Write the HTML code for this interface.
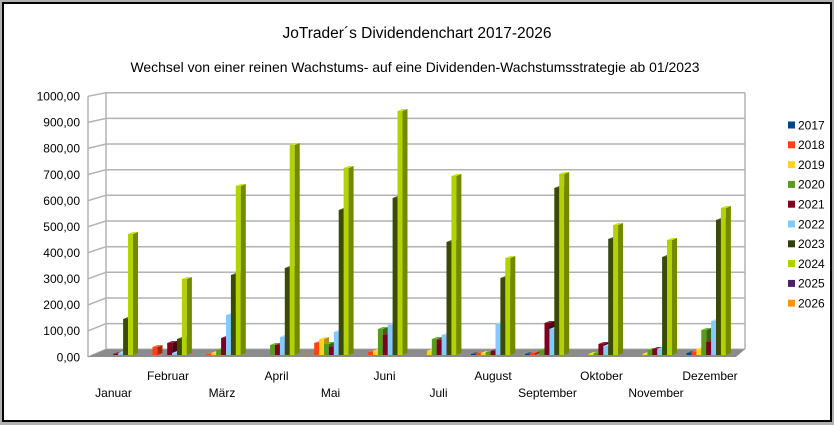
<!DOCTYPE html>
<html><head><meta charset="utf-8">
<style>
html,body{margin:0;padding:0;background:#b0b0b0;}
svg{display:block;font-family:"Liberation Sans",Arial,sans-serif;}
.s0 .f{fill:#004586}.s0 .d{fill:#00284e}.s0 .t{fill:#2a62a0}
.s1 .f{fill:#ff420e}.s1 .d{fill:#a32a08}.s1 .t{fill:#ff6a3a}
.s2 .f{fill:#ffd320}.s2 .d{fill:#b08f12}.s2 .t{fill:#ffe060}
.s3 .f{fill:#579d1c}.s3 .d{fill:#386512}.s3 .t{fill:#72b436}
.s4 .f{fill:#7e0021}.s4 .d{fill:#4a0013}.s4 .t{fill:#9a2040}
.s5 .f{fill:#83caff}.s5 .d{fill:#4f8ab8}.s5 .t{fill:#a8dbff}
.s6 .f{fill:#3a4a08}.s6 .d{fill:#1e2803}.s6 .t{fill:#4f6018}
.s7 .f{fill:#b4d200}.s7 .d{fill:#728a00}.s7 .t{fill:#c8e228}
</style></head>
<body>
<svg width="834" height="425" viewBox="0 0 834 425" xmlns="http://www.w3.org/2000/svg">
<rect x="0" y="0" width="834" height="425" fill="#b0b0b0"/>
<rect x="3" y="3" width="828" height="418" fill="#ffffff" stroke="#000" stroke-width="2"/>

<text x="417" y="38" font-size="15.5" text-anchor="middle" fill="#000" textLength="269" lengthAdjust="spacingAndGlyphs">JoTrader´s Dividendenchart 2017-2026</text>
<text x="415" y="72" font-size="14" text-anchor="middle" fill="#000" textLength="569" lengthAdjust="spacingAndGlyphs">Wechsel von einer reinen Wachstums- auf eine Dividenden-Wachstumsstrategie ab 01/2023</text>

<!-- walls grid -->
<g stroke="#b3b3b3" stroke-width="1.5" fill="none">
<line x1="106" y1="349.3" x2="745" y2="349.3"/>
<line x1="106" y1="323.6" x2="745" y2="323.6"/>
<line x1="106" y1="298.0" x2="745" y2="298.0"/>
<line x1="106" y1="272.3" x2="745" y2="272.3"/>
<line x1="106" y1="246.7" x2="745" y2="246.7"/>
<line x1="106" y1="221.0" x2="745" y2="221.0"/>
<line x1="106" y1="195.3" x2="745" y2="195.3"/>
<line x1="106" y1="169.7" x2="745" y2="169.7"/>
<line x1="106" y1="144.0" x2="745" y2="144.0"/>
<line x1="106" y1="118.4" x2="745" y2="118.4"/>
<line x1="106" y1="92.7" x2="745" y2="92.7"/>
<line x1="88" y1="357" x2="106" y2="349.3"/>
<line x1="88" y1="330.9" x2="106" y2="323.6"/>
<line x1="88" y1="304.9" x2="106" y2="298.0"/>
<line x1="88" y1="278.8" x2="106" y2="272.3"/>
<line x1="88" y1="252.7" x2="106" y2="246.7"/>
<line x1="88" y1="226.7" x2="106" y2="221.0"/>
<line x1="88" y1="200.6" x2="106" y2="195.3"/>
<line x1="88" y1="174.5" x2="106" y2="169.7"/>
<line x1="88" y1="148.4" x2="106" y2="144.0"/>
<line x1="88" y1="122.4" x2="106" y2="118.4"/>
<line x1="88" y1="96.3" x2="106" y2="92.7"/>
<line x1="88" y1="96.3" x2="88" y2="357"/>
<line x1="106" y1="92.7" x2="106" y2="349.3"/>
<line x1="745" y1="92.7" x2="745" y2="349.3"/>
</g>

<!-- floor -->
<polygon points="88,357 106,349.3 745,349.3 736,357" fill="#8c8c8c"/>

<!-- y labels -->
<g font-size="12" text-anchor="end" fill="#000">
<text x="80" y="361.3">0,00</text>
<text x="80" y="335.2">100,00</text>
<text x="80" y="309.2">200,00</text>
<text x="80" y="283.1">300,00</text>
<text x="80" y="257.0">400,00</text>
<text x="80" y="231.0">500,00</text>
<text x="80" y="204.9">600,00</text>
<text x="80" y="178.8">700,00</text>
<text x="80" y="152.7">800,00</text>
<text x="80" y="126.7">900,00</text>
<text x="80" y="100.6">1000,00</text>
</g>

<!-- bars -->
<!-- Januar -->
<g class="s4" transform="translate(113.3)"><path class="f" d="M0,355V354h5V355z"/><path class="d" d="M5,355V354l5,-2V353z"/><path class="t" d="M0,354l5,-2h5l-5,2z"/></g>
<g class="s5" transform="translate(118.2)"><path class="f" d="M0,355V353h5V355z"/><path class="d" d="M5,355V353l5,-2V353z"/><path class="t" d="M0,353l5,-2h5l-5,2z"/></g>
<g class="s6" transform="translate(123.1)"><path class="f" d="M0,355V319h5V355z"/><path class="d" d="M5,355V319l5,-2V353z"/><path class="t" d="M0,319l5,-2h5l-5,2z"/></g>
<g class="s7" transform="translate(128)"><path class="f" d="M0,355V234h5V355z"/><path class="d" d="M5,355V234l5,-2V353z"/><path class="t" d="M0,234l5,-2h5l-5,2z"/></g>
<!-- Februar -->
<g class="s1" transform="translate(152.5)"><path class="f" d="M0,355V347h5V355z"/><path class="d" d="M5,355V347l5,-2V353z"/><path class="t" d="M0,347l5,-2h5l-5,2z"/></g>
<g class="s4" transform="translate(167.2)"><path class="f" d="M0,355V343h5V355z"/><path class="d" d="M5,355V343l5,-2V353z"/><path class="t" d="M0,343l5,-2h5l-5,2z"/></g>
<g class="s5" transform="translate(172.1)"><path class="f" d="M0,355V353h5V355z"/><path class="d" d="M5,355V353l5,-2V353z"/><path class="t" d="M0,353l5,-2h5l-5,2z"/></g>
<g class="s6" transform="translate(177)"><path class="f" d="M0,355V339h5V355z"/><path class="d" d="M5,355V339l5,-2V353z"/><path class="t" d="M0,339l5,-2h5l-5,2z"/></g>
<g class="s7" transform="translate(181.9)"><path class="f" d="M0,355V279h5V355z"/><path class="d" d="M5,355V279l5,-2V353z"/><path class="t" d="M0,279l5,-2h5l-5,2z"/></g>
<!-- März -->
<g class="s1" transform="translate(206.4)"><path class="f" d="M0,355V354h5V355z"/><path class="d" d="M5,355V354l5,-2V353z"/><path class="t" d="M0,354l5,-2h5l-5,2z"/></g>
<g class="s2" transform="translate(211.3)"><path class="f" d="M0,355V353h5V355z"/><path class="d" d="M5,355V353l5,-2V353z"/><path class="t" d="M0,353l5,-2h5l-5,2z"/></g>
<g class="s3" transform="translate(216.2)"><path class="f" d="M0,355V350h5V355z"/><path class="d" d="M5,355V350l5,-2V353z"/><path class="t" d="M0,350l5,-2h5l-5,2z"/></g>
<g class="s4" transform="translate(221.1)"><path class="f" d="M0,355V338h5V355z"/><path class="d" d="M5,355V338l5,-2V353z"/><path class="t" d="M0,338l5,-2h5l-5,2z"/></g>
<g class="s5" transform="translate(226)"><path class="f" d="M0,355V315h5V355z"/><path class="d" d="M5,355V315l5,-2V353z"/><path class="t" d="M0,315l5,-2h5l-5,2z"/></g>
<g class="s6" transform="translate(230.9)"><path class="f" d="M0,355V275h5V355z"/><path class="d" d="M5,355V275l5,-2V353z"/><path class="t" d="M0,275l5,-2h5l-5,2z"/></g>
<g class="s7" transform="translate(235.8)"><path class="f" d="M0,355V186h5V355z"/><path class="d" d="M5,355V186l5,-2V353z"/><path class="t" d="M0,186l5,-2h5l-5,2z"/></g>
<!-- April -->
<g class="s3" transform="translate(270.1)"><path class="f" d="M0,355V345h5V355z"/><path class="d" d="M5,355V345l5,-2V353z"/><path class="t" d="M0,345l5,-2h5l-5,2z"/></g>
<g class="s4" transform="translate(275)"><path class="f" d="M0,355V345h5V355z"/><path class="d" d="M5,355V345l5,-2V353z"/><path class="t" d="M0,345l5,-2h5l-5,2z"/></g>
<g class="s5" transform="translate(279.9)"><path class="f" d="M0,355V337h5V355z"/><path class="d" d="M5,355V337l5,-2V353z"/><path class="t" d="M0,337l5,-2h5l-5,2z"/></g>
<g class="s6" transform="translate(284.8)"><path class="f" d="M0,355V268h5V355z"/><path class="d" d="M5,355V268l5,-2V353z"/><path class="t" d="M0,268l5,-2h5l-5,2z"/></g>
<g class="s7" transform="translate(289.7)"><path class="f" d="M0,355V145h5V355z"/><path class="d" d="M5,355V145l5,-2V353z"/><path class="t" d="M0,145l5,-2h5l-5,2z"/></g>
<!-- Mai -->
<g class="s1" transform="translate(314.2)"><path class="f" d="M0,355V343h5V355z"/><path class="d" d="M5,355V343l5,-2V353z"/><path class="t" d="M0,343l5,-2h5l-5,2z"/></g>
<g class="s2" transform="translate(319.1)"><path class="f" d="M0,355V339h5V355z"/><path class="d" d="M5,355V339l5,-2V353z"/><path class="t" d="M0,339l5,-2h5l-5,2z"/></g>
<g class="s3" transform="translate(324)"><path class="f" d="M0,355V344h5V355z"/><path class="d" d="M5,355V344l5,-2V353z"/><path class="t" d="M0,344l5,-2h5l-5,2z"/></g>
<g class="s4" transform="translate(328.9)"><path class="f" d="M0,355V347h5V355z"/><path class="d" d="M5,355V347l5,-2V353z"/><path class="t" d="M0,347l5,-2h5l-5,2z"/></g>
<g class="s5" transform="translate(333.8)"><path class="f" d="M0,355V332h5V355z"/><path class="d" d="M5,355V332l5,-2V353z"/><path class="t" d="M0,332l5,-2h5l-5,2z"/></g>
<g class="s6" transform="translate(338.7)"><path class="f" d="M0,355V210h5V355z"/><path class="d" d="M5,355V210l5,-2V353z"/><path class="t" d="M0,210l5,-2h5l-5,2z"/></g>
<g class="s7" transform="translate(343.6)"><path class="f" d="M0,355V168h5V355z"/><path class="d" d="M5,355V168l5,-2V353z"/><path class="t" d="M0,168l5,-2h5l-5,2z"/></g>
<!-- Juni -->
<g class="s1" transform="translate(368.1)"><path class="f" d="M0,355V352h5V355z"/><path class="d" d="M5,355V352l5,-2V353z"/><path class="t" d="M0,352l5,-2h5l-5,2z"/></g>
<g class="s2" transform="translate(373)"><path class="f" d="M0,355V351h5V355z"/><path class="d" d="M5,355V351l5,-2V353z"/><path class="t" d="M0,351l5,-2h5l-5,2z"/></g>
<g class="s3" transform="translate(377.9)"><path class="f" d="M0,355V329h5V355z"/><path class="d" d="M5,355V329l5,-2V353z"/><path class="t" d="M0,329l5,-2h5l-5,2z"/></g>
<g class="s4" transform="translate(382.8)"><path class="f" d="M0,355V335h5V355z"/><path class="d" d="M5,355V335l5,-2V353z"/><path class="t" d="M0,335l5,-2h5l-5,2z"/></g>
<g class="s5" transform="translate(387.7)"><path class="f" d="M0,355V325h5V355z"/><path class="d" d="M5,355V325l5,-2V353z"/><path class="t" d="M0,325l5,-2h5l-5,2z"/></g>
<g class="s6" transform="translate(392.6)"><path class="f" d="M0,355V198h5V355z"/><path class="d" d="M5,355V198l5,-2V353z"/><path class="t" d="M0,198l5,-2h5l-5,2z"/></g>
<g class="s7" transform="translate(397.5)"><path class="f" d="M0,355V111h5V355z"/><path class="d" d="M5,355V111l5,-2V353z"/><path class="t" d="M0,111l5,-2h5l-5,2z"/></g>
<!-- Juli -->
<g class="s2" transform="translate(426.9)"><path class="f" d="M0,355V351h5V355z"/><path class="d" d="M5,355V351l5,-2V353z"/><path class="t" d="M0,351l5,-2h5l-5,2z"/></g>
<g class="s3" transform="translate(431.8)"><path class="f" d="M0,355V339h5V355z"/><path class="d" d="M5,355V339l5,-2V353z"/><path class="t" d="M0,339l5,-2h5l-5,2z"/></g>
<g class="s4" transform="translate(436.7)"><path class="f" d="M0,355V340h5V355z"/><path class="d" d="M5,355V340l5,-2V353z"/><path class="t" d="M0,340l5,-2h5l-5,2z"/></g>
<g class="s5" transform="translate(441.6)"><path class="f" d="M0,355V335h5V355z"/><path class="d" d="M5,355V335l5,-2V353z"/><path class="t" d="M0,335l5,-2h5l-5,2z"/></g>
<g class="s6" transform="translate(446.5)"><path class="f" d="M0,355V242h5V355z"/><path class="d" d="M5,355V242l5,-2V353z"/><path class="t" d="M0,242l5,-2h5l-5,2z"/></g>
<g class="s7" transform="translate(451.4)"><path class="f" d="M0,355V176h5V355z"/><path class="d" d="M5,355V176l5,-2V353z"/><path class="t" d="M0,176l5,-2h5l-5,2z"/></g>
<!-- August -->
<g class="s0" transform="translate(471)"><path class="f" d="M0,355V354h5V355z"/><path class="d" d="M5,355V354l5,-2V353z"/><path class="t" d="M0,354l5,-2h5l-5,2z"/></g>
<g class="s1" transform="translate(475.9)"><path class="f" d="M0,355V353h5V355z"/><path class="d" d="M5,355V353l5,-2V353z"/><path class="t" d="M0,353l5,-2h5l-5,2z"/></g>
<g class="s2" transform="translate(480.8)"><path class="f" d="M0,355V353h5V355z"/><path class="d" d="M5,355V353l5,-2V353z"/><path class="t" d="M0,353l5,-2h5l-5,2z"/></g>
<g class="s3" transform="translate(485.7)"><path class="f" d="M0,355V352h5V355z"/><path class="d" d="M5,355V352l5,-2V353z"/><path class="t" d="M0,352l5,-2h5l-5,2z"/></g>
<g class="s4" transform="translate(490.6)"><path class="f" d="M0,355V351h5V355z"/><path class="d" d="M5,355V351l5,-2V353z"/><path class="t" d="M0,351l5,-2h5l-5,2z"/></g>
<g class="s5" transform="translate(495.5)"><path class="f" d="M0,355V324h5V355z"/><path class="d" d="M5,355V324l5,-2V353z"/><path class="t" d="M0,324l5,-2h5l-5,2z"/></g>
<g class="s6" transform="translate(500.4)"><path class="f" d="M0,355V278h5V355z"/><path class="d" d="M5,355V278l5,-2V353z"/><path class="t" d="M0,278l5,-2h5l-5,2z"/></g>
<g class="s7" transform="translate(505.3)"><path class="f" d="M0,355V258h5V355z"/><path class="d" d="M5,355V258l5,-2V353z"/><path class="t" d="M0,258l5,-2h5l-5,2z"/></g>
<!-- September -->
<g class="s0" transform="translate(524.9)"><path class="f" d="M0,355V354h5V355z"/><path class="d" d="M5,355V354l5,-2V353z"/><path class="t" d="M0,354l5,-2h5l-5,2z"/></g>
<g class="s1" transform="translate(529.8)"><path class="f" d="M0,355V353h5V355z"/><path class="d" d="M5,355V353l5,-2V353z"/><path class="t" d="M0,353l5,-2h5l-5,2z"/></g>
<g class="s3" transform="translate(539.6)"><path class="f" d="M0,355V350h5V355z"/><path class="d" d="M5,355V350l5,-2V353z"/><path class="t" d="M0,350l5,-2h5l-5,2z"/></g>
<g class="s4" transform="translate(544.5)"><path class="f" d="M0,355V323h5V355z"/><path class="d" d="M5,355V323l5,-2V353z"/><path class="t" d="M0,323l5,-2h5l-5,2z"/></g>
<g class="s5" transform="translate(549.4)"><path class="f" d="M0,355V329h5V355z"/><path class="d" d="M5,355V329l5,-2V353z"/><path class="t" d="M0,329l5,-2h5l-5,2z"/></g>
<g class="s6" transform="translate(554.3)"><path class="f" d="M0,355V188h5V355z"/><path class="d" d="M5,355V188l5,-2V353z"/><path class="t" d="M0,188l5,-2h5l-5,2z"/></g>
<g class="s7" transform="translate(559.2)"><path class="f" d="M0,355V174h5V355z"/><path class="d" d="M5,355V174l5,-2V353z"/><path class="t" d="M0,174l5,-2h5l-5,2z"/></g>
<!-- Oktober -->
<g class="s2" transform="translate(588.6)"><path class="f" d="M0,355V354h5V355z"/><path class="d" d="M5,355V354l5,-2V353z"/><path class="t" d="M0,354l5,-2h5l-5,2z"/></g>
<g class="s3" transform="translate(593.5)"><path class="f" d="M0,355V353h5V355z"/><path class="d" d="M5,355V353l5,-2V353z"/><path class="t" d="M0,353l5,-2h5l-5,2z"/></g>
<g class="s4" transform="translate(598.4)"><path class="f" d="M0,355V344h5V355z"/><path class="d" d="M5,355V344l5,-2V353z"/><path class="t" d="M0,344l5,-2h5l-5,2z"/></g>
<g class="s5" transform="translate(603.3)"><path class="f" d="M0,355V346h5V355z"/><path class="d" d="M5,355V346l5,-2V353z"/><path class="t" d="M0,346l5,-2h5l-5,2z"/></g>
<g class="s6" transform="translate(608.2)"><path class="f" d="M0,355V239h5V355z"/><path class="d" d="M5,355V239l5,-2V353z"/><path class="t" d="M0,239l5,-2h5l-5,2z"/></g>
<g class="s7" transform="translate(613.1)"><path class="f" d="M0,355V225h5V355z"/><path class="d" d="M5,355V225l5,-2V353z"/><path class="t" d="M0,225l5,-2h5l-5,2z"/></g>
<!-- November -->
<g class="s2" transform="translate(642.5)"><path class="f" d="M0,355V354h5V355z"/><path class="d" d="M5,355V354l5,-2V353z"/><path class="t" d="M0,354l5,-2h5l-5,2z"/></g>
<g class="s3" transform="translate(647.4)"><path class="f" d="M0,355V350h5V355z"/><path class="d" d="M5,355V350l5,-2V353z"/><path class="t" d="M0,350l5,-2h5l-5,2z"/></g>
<g class="s4" transform="translate(652.3)"><path class="f" d="M0,355V349h5V355z"/><path class="d" d="M5,355V349l5,-2V353z"/><path class="t" d="M0,349l5,-2h5l-5,2z"/></g>
<g class="s5" transform="translate(657.2)"><path class="f" d="M0,355V349h5V355z"/><path class="d" d="M5,355V349l5,-2V353z"/><path class="t" d="M0,349l5,-2h5l-5,2z"/></g>
<g class="s6" transform="translate(662.1)"><path class="f" d="M0,355V257h5V355z"/><path class="d" d="M5,355V257l5,-2V353z"/><path class="t" d="M0,257l5,-2h5l-5,2z"/></g>
<g class="s7" transform="translate(667)"><path class="f" d="M0,355V240h5V355z"/><path class="d" d="M5,355V240l5,-2V353z"/><path class="t" d="M0,240l5,-2h5l-5,2z"/></g>
<!-- Dezember -->
<g class="s0" transform="translate(686.6)"><path class="f" d="M0,355V353h5V355z"/><path class="d" d="M5,355V353l5,-2V353z"/><path class="t" d="M0,353l5,-2h5l-5,2z"/></g>
<g class="s1" transform="translate(691.5)"><path class="f" d="M0,355V352h5V355z"/><path class="d" d="M5,355V352l5,-2V353z"/><path class="t" d="M0,352l5,-2h5l-5,2z"/></g>
<g class="s2" transform="translate(696.4)"><path class="f" d="M0,355V349h5V355z"/><path class="d" d="M5,355V349l5,-2V353z"/><path class="t" d="M0,349l5,-2h5l-5,2z"/></g>
<g class="s3" transform="translate(701.3)"><path class="f" d="M0,355V330h5V355z"/><path class="d" d="M5,355V330l5,-2V353z"/><path class="t" d="M0,330l5,-2h5l-5,2z"/></g>
<g class="s4" transform="translate(706.2)"><path class="f" d="M0,355V342h5V355z"/><path class="d" d="M5,355V342l5,-2V353z"/><path class="t" d="M0,342l5,-2h5l-5,2z"/></g>
<g class="s5" transform="translate(711.1)"><path class="f" d="M0,355V321h5V355z"/><path class="d" d="M5,355V321l5,-2V353z"/><path class="t" d="M0,321l5,-2h5l-5,2z"/></g>
<g class="s6" transform="translate(716)"><path class="f" d="M0,355V220h5V355z"/><path class="d" d="M5,355V220l5,-2V353z"/><path class="t" d="M0,220l5,-2h5l-5,2z"/></g>
<g class="s7" transform="translate(720.9)"><path class="f" d="M0,355V208h5V355z"/><path class="d" d="M5,355V208l5,-2V353z"/><path class="t" d="M0,208l5,-2h5l-5,2z"/></g>

<!-- x labels -->
<g font-size="12" text-anchor="middle" fill="#000">
<text x="113.5" y="397">Januar</text>
<text x="168" y="380">Februar</text>
<text x="222" y="397">März</text>
<text x="276.5" y="380">April</text>
<text x="330.5" y="397">Mai</text>
<text x="384.5" y="380">Juni</text>
<text x="438.5" y="397">Juli</text>
<text x="493" y="380">August</text>
<text x="547.5" y="397">September</text>
<text x="601.5" y="380">Oktober</text>
<text x="656" y="397">November</text>
<text x="710" y="380">Dezember</text>
</g>

<!-- legend -->
<g font-size="12" fill="#000">
<rect x="788" y="121.5" width="7" height="7" fill="#004586"/><text x="798" y="129.3">2017</text>
<rect x="788" y="141.3" width="7" height="7" fill="#ff420e"/><text x="798" y="149.1">2018</text>
<rect x="788" y="161.1" width="7" height="7" fill="#ffd320"/><text x="798" y="168.9">2019</text>
<rect x="788" y="180.9" width="7" height="7" fill="#579d1c"/><text x="798" y="188.7">2020</text>
<rect x="788" y="200.7" width="7" height="7" fill="#7e0021"/><text x="798" y="208.5">2021</text>
<rect x="788" y="220.5" width="7" height="7" fill="#83caff"/><text x="798" y="228.3">2022</text>
<rect x="788" y="240.3" width="7" height="7" fill="#314004"/><text x="798" y="248.1">2023</text>
<rect x="788" y="260.1" width="7" height="7" fill="#aecf00"/><text x="798" y="267.9">2024</text>
<rect x="788" y="279.9" width="7" height="7" fill="#4b1f6f"/><text x="798" y="287.7">2025</text>
<rect x="788" y="299.7" width="7" height="7" fill="#ff950e"/><text x="798" y="307.5">2026</text>
</g>
</svg>
</body></html>
